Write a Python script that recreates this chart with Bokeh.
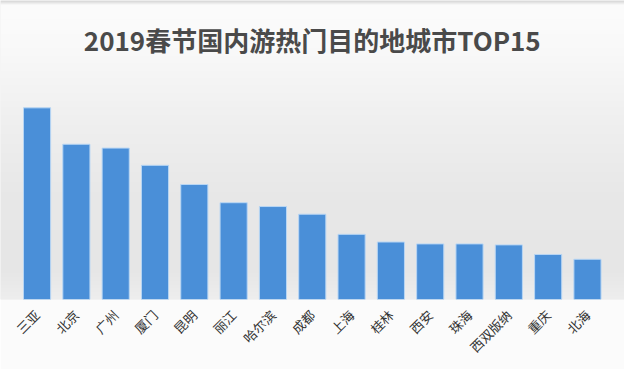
import numpy as np
from bokeh.plotting import figure
from bokeh.models import ColumnDataSource, Range1d, FixedTicker
from bokeh.core.properties import value
from bokeh.embed import file_html
from bokeh.resources import INLINE

title_text = "2019春节国内游热门目的地城市TOP15"
cities = ["三亚", "北京", "广州", "厦门", "昆明", "丽江", "哈尔滨", "成都",
          "上海", "桂林", "西安", "珠海", "西双版纳", "重庆", "北海"]
heat = [200, 162, 158, 140, 120, 101, 97, 89, 68, 60, 58, 58, 57, 47, 42]

FONT = "Noto Sans CJK SC"
idx = list(range(len(cities)))
src = ColumnDataSource(dict(x=idx, top=heat, city=cities))

X0, X1 = -0.930, 14.942
Y1 = 312

p = figure(width=624, height=369, output_backend="svg", toolbar_location=None,
           x_range=Range1d(X0, X1), y_range=Range1d(0, Y1),
           min_border_left=0, min_border_right=0, min_border_top=0,
           min_border_bottom=70)
p.outline_line_color = None
p.border_fill_color = "#fbfbfb"
p.background_fill_color = "#ececec"
p.xgrid.visible = False
p.ygrid.visible = False
p.yaxis.visible = False

# soft grey background gradient (decoration)
rows = 312
ref_y = np.linspace(312, 0, rows)  # bottom row first
g = np.interp(ref_y, [0, 4, 50, 120, 200, 280, 312], [215, 252, 249, 240, 232, 230, 238])
img = np.zeros((rows, 1), dtype=np.uint32)
view = img.view(dtype=np.uint8).reshape((rows, 1, 4))
view[:, 0, 0] = g
view[:, 0, 1] = g
view[:, 0, 2] = g
view[:, 0, 3] = 255
p.image_rgba(image=[img], x=X0, y=0, dw=X1 - X0, dh=Y1)

p.vbar(x="x", top="top", width=0.69, bottom=0, source=src,
       fill_color="#4a8fd8", line_color="#b8d6f4", line_width=1)

p.text(x=[7], y=[271], text=[title_text], text_font=value(FONT),
       text_font_style="bold", text_font_size="26px", text_color="#4a4a4a",
       text_align="center", text_baseline="middle")

ax = p.xaxis[0]
ax.ticker = FixedTicker(ticks=idx)
ax.major_label_overrides = {i: c for i, c in enumerate(cities)}
ax.major_label_orientation = np.pi / 4
ax.major_label_text_font = FONT
ax.major_label_text_font_size = "13px"
ax.major_label_text_color = "#333333"
ax.major_label_standoff = 7
ax.axis_line_color = None
ax.major_tick_line_color = None
ax.minor_tick_line_color = None

open("out.html", "w").write(file_html(p, INLINE))
